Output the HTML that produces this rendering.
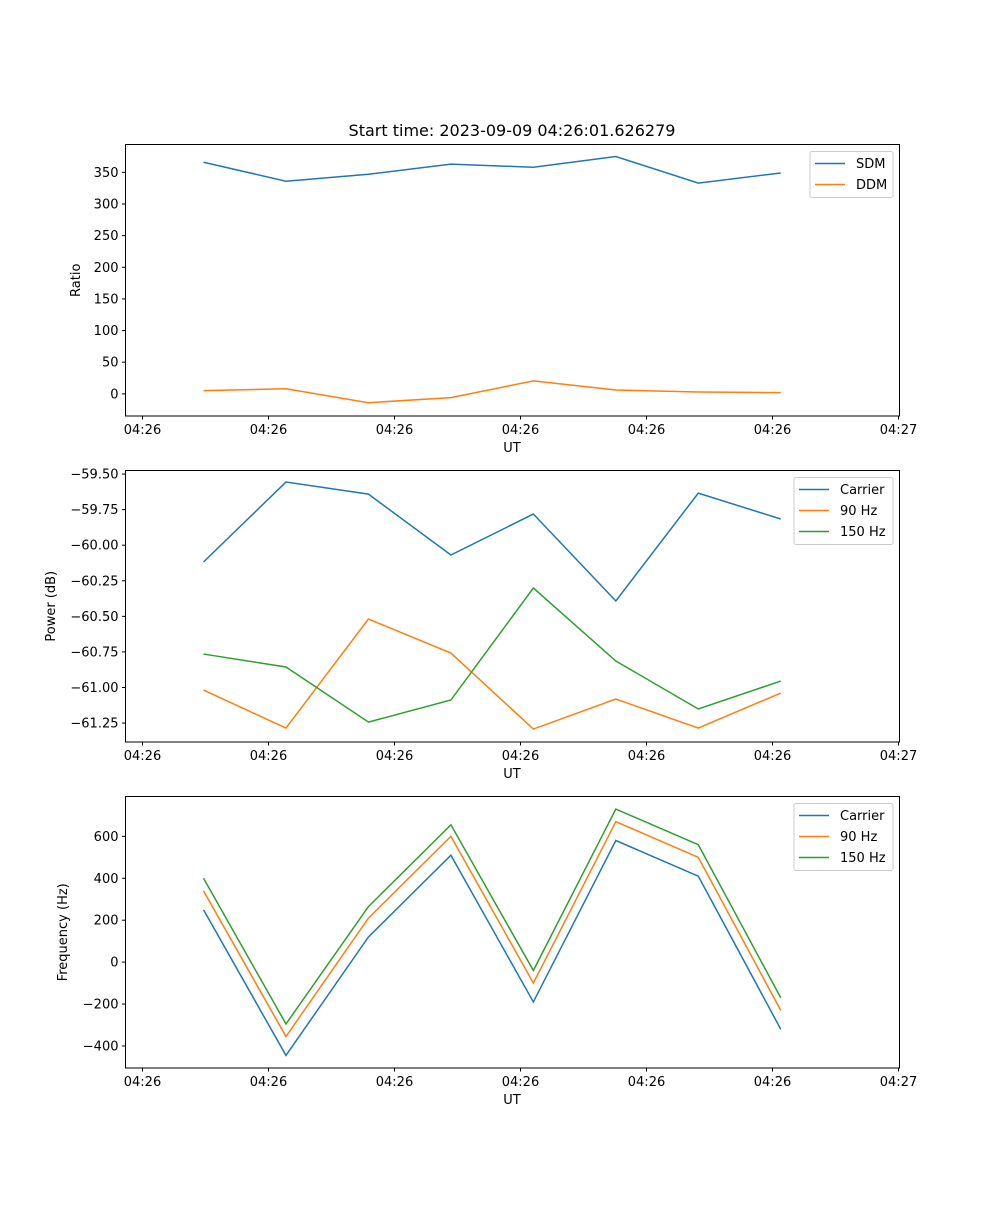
<!DOCTYPE html>
<html><head><meta charset="utf-8"><style>
body{margin:0;background:#fff}
svg{font-family:"DejaVu Sans","Liberation Sans",sans-serif}
</style></head><body>
<svg id="fig" width="1000" height="1200" viewBox="0 0 1000 1200" xmlns="http://www.w3.org/2000/svg">
<rect width="1000" height="1200" fill="#fff"/>
<text x="512" y="136" font-size="16" text-anchor="middle">Start time: 2023-09-09 04:26:01.626279</text>
</svg>
<script>
const categories = [0,1,2,3,4,5,6,7];
const xTickPositions = [-0.74,0.788,2.316,3.844,5.372,6.9,8.428];
const xTickLabels = ["04:26","04:26","04:26","04:26","04:26","04:26","04:27"];
const sdm = [366,336,347,363,358,375,333,349];
const ddm = [5,8,-14,-6,20.5,6,3,2];
const pCarrier = [-60.118,-59.556,-59.641,-60.069,-59.781,-60.392,-59.634,-59.816];
const p90 = [-61.018,-61.285,-60.519,-60.758,-61.292,-61.081,-61.285,-61.039];
const p150 = [-60.765,-60.856,-61.243,-61.088,-60.301,-60.814,-61.151,-60.955];
const fCarrier = [250,-445,120,510,-190,580,410,-320];
const f90 = [340,-355,210,600,-100,670,500,-230];
const f150 = [400,-295,265,655,-40,730,560,-170];
const ratioTicks = [0,50,100,150,200,250,300,350];
const powerTicks = [-59.5,-59.75,-60,-60.25,-60.5,-60.75,-61,-61.25];
const freqTicks = [-400,-200,0,200,400,600];

const NS="http://www.w3.org/2000/svg";
const svg=document.getElementById('fig');
const C=['#1f77b4','#ff7f0e','#2ca02c'];
function mk(tag,attrs,parent){const e=document.createElementNS(NS,tag);for(const k in attrs)e.setAttribute(k,attrs[k]);(parent||svg).appendChild(e);return e;}
const X0=125.5,X1=899.5,XMIN=-0.946,XMAX=8.44;
function xs(v){return X0+(v-XMIN)/(XMAX-XMIN)*(X1-X0);}

function panel(id,top,bot,ymin,ymax,ticks,fmt,ylabel,ylabelX,series,names,legend){
  const g=mk('g',{});
  
  
  const ys=v=>bot-(v-ymin)/(ymax-ymin)*(bot-top);
  series.forEach((s,i)=>{
    const p=mk('polyline',{points:s.map((v,j)=>xs(categories[j])+','+ys(v)).join(' '),fill:'none',stroke:C[i],'stroke-width':1.5},g);
    
    
  });
  const fr=mk('rect',{x:X0,y:top,width:X1-X0,height:bot-top,fill:'none',stroke:'#000','stroke-width':1},g);
  
  
  ticks.forEach(t=>{
    const y=ys(t);
    mk('line',{x1:X0,x2:X0-3.5,y1:y,y2:y,stroke:'#000'},g);
    const tx=mk('text',{x:X0-7,y:y+4.5,'font-size':13,'text-anchor':'end'},g);
    tx.textContent=fmt(t);
    
    
  });
  xTickPositions.forEach((t,i)=>{
    const x=xs(t);
    mk('line',{x1:x,x2:x,y1:bot,y2:bot+3.5,stroke:'#000'},g);
    const tx=mk('text',{x:x,y:bot+18,'font-size':13,'text-anchor':'middle'},g);
    tx.textContent=xTickLabels[i];
    
    
  });
  const xl=mk('text',{x:512,y:bot+36,'font-size':13,'text-anchor':'middle'},g);
  xl.textContent='UT';
  
  
  const cy=(top+bot)/2;
  const yl=mk('text',{x:ylabelX,y:cy,'font-size':13,'text-anchor':'middle',transform:'rotate(-90 '+ylabelX+' '+cy+')'},g);
  yl.textContent=ylabel;
  
  
  const lg=mk('g',{},g);
  
  
  mk('rect',{x:legend.x,y:top+7,width:legend.w,height:names.length*21+4,rx:2,fill:'#fff','fill-opacity':0.8,stroke:'#ccc'},lg);
  names.forEach((n,i)=>{
    const y=top+19+i*21;
    mk('line',{x1:legend.x+5,x2:legend.x+35,y1:y,y2:y,stroke:C[i],'stroke-width':1.5},lg);
    const t=mk('text',{x:legend.x+46,y:y+4.5,'font-size':13},lg);
    t.textContent=n;
    
    
  });
}
const m=v=>String(v).replace('-','\u2212');
panel('ratio',144.5,416,-35,394,ratioTicks,v=>m(v),'Ratio',80,[sdm,ddm],['SDM','DDM'],{x:810,w:83});
panel('power',470.5,742,-61.383,-59.475,powerTicks,v=>m(v.toFixed(2)),'Power (dB)',55,[pCarrier,p90,p150],['Carrier','90 Hz','150 Hz'],{x:794,w:99});
panel('freq',796.5,1068,-505,790,freqTicks,v=>m(v),'Frequency (Hz)',67,[fCarrier,f90,f150],['Carrier','90 Hz','150 Hz'],{x:794,w:99});
</script>
</body></html>
